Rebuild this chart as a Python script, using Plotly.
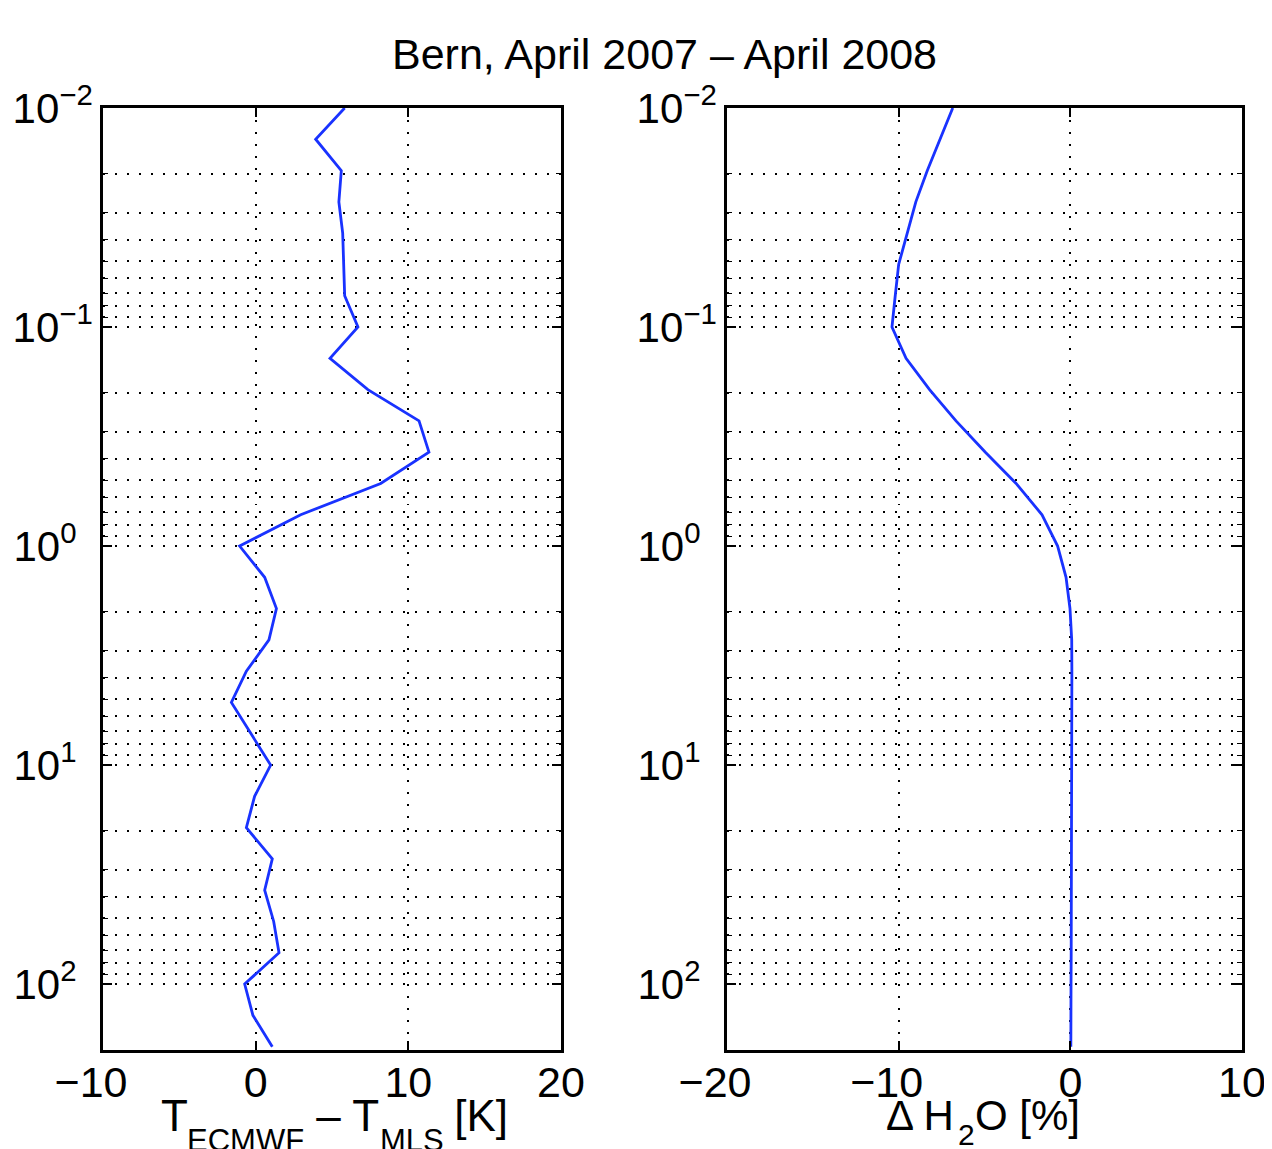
import plotly.graph_objects as go

# Pressure levels [hPa]
pressure = [0.01, 0.01389, 0.01931, 0.02683, 0.03728, 0.05179, 0.07197,
            0.1, 0.1389, 0.1931, 0.2683, 0.3728, 0.5179, 0.7197,
            1.0, 1.389, 1.931, 2.683, 3.728, 5.179, 7.197,
            10.0, 13.89, 19.31, 26.83, 37.28, 51.79, 71.97,
            100.0, 138.9, 193.1]

# T_ECMWF - T_MLS [K]
dT = [5.83, 3.93, 5.61, 5.45, 5.70, 5.76, 5.83,
      6.70, 4.87, 7.35, 10.70, 11.35, 8.19, 2.95,
      -1.05, 0.59, 1.36, 0.87, -0.61, -1.59, -0.33,
      0.98, -0.07, -0.61, 1.09, 0.59, 1.18, 1.53,
      -0.72, -0.18, 1.09]

# Delta H2O [%]
dH2O = [-6.85, -7.60, -8.33, -9.00, -9.52, -10.00, -10.20,
        -10.39, -9.57, -8.20, -6.66, -4.95, -3.16, -1.65,
        -0.74, -0.25, -0.02, 0.08, 0.09, 0.09, 0.08,
        0.08, 0.07, 0.07, 0.06, 0.06, 0.05, 0.05,
        0.04, 0.04, 0.03]

title_text = "Bern, April 2007 – April 2008"

xtick_left_vals = [-10, 0, 10, 20]
xtick_left_text = ["−10\u2007", "0", "10", "20"]
xtick_right_vals = [-20, -10, 0, 10]
xtick_right_text = ["−20\u2007", "−10\u2007", "0", "10"]

ytick_vals = [0.01, 0.1, 1, 10, 100]
ytick_text = ["10<sup>−2</sup>", "10<sup>−1</sup>", "10<sup>0\u2007</sup>",
              "10<sup>1\u2007</sup>", "10<sup>2\u2007</sup>"]
minor_vals = [m * d for d in [0.01, 0.1, 1, 10, 100] for m in range(2, 10) if m * d <= 200]

W, H = 1272, 1149
OFF = 8  # page body margin
FONT = "Liberation Sans, Arial, Helvetica, sans-serif"
BLUE = "rgb(25,50,255)"
DOT = "1.5px,10.5px"


def px_x(p):
    return (p - OFF) / W


def px_y(p):
    return 1 - (p - OFF) / H


def label(text, x, y, size, xanchor="left"):
    return dict(text=text, x=px_x(x), y=px_y(y), xref="paper", yref="paper",
                xanchor=xanchor, yanchor="top", showarrow=False,
                font=dict(size=size, family=FONT, color="black"))


fig = go.Figure()
fig.add_trace(go.Scatter(x=dT, y=pressure, mode="lines",
                         line=dict(color=BLUE, width=2.8),
                         xaxis="x", yaxis="y", showlegend=False))
fig.add_trace(go.Scatter(x=dH2O, y=pressure, mode="lines",
                         line=dict(color=BLUE, width=2.8),
                         xaxis="x2", yaxis="y2", showlegend=False))

common_x = dict(ticks="inside", ticklen=9, tickwidth=1.5, tickcolor="black",
                showline=True, linewidth=2.5, linecolor="black", mirror="ticks",
                showgrid=True, gridcolor="black", griddash=DOT, gridwidth=1.5,
                zeroline=False, tickfont=dict(size=43, family=FONT, color="black"),
                ticklabelstandoff=-7, automargin=False)
common_y = dict(type="log", range=[2.30103, -2], tickmode="array",
                tickvals=ytick_vals, ticktext=ytick_text,
                ticks="inside", ticklen=9, tickwidth=1.5, tickcolor="black",
                showline=True, linewidth=2.5, linecolor="black", mirror="ticks",
                showgrid=True, gridcolor="black", griddash=DOT, gridwidth=1.5,
                zeroline=False, tickfont=dict(size=42, family=FONT, color="black"),
                minor=dict(tickmode="array", tickvals=minor_vals, ticks="inside",
                           ticklen=5, tickwidth=1.2, tickcolor="black",
                           showgrid=True, gridcolor="black", griddash=DOT,
                           gridwidth=1.5),
                ticklabelstandoff=-1, automargin=False,
                domain=[px_y(1050), px_y(108)])

S_MAIN_L, S_SUB_L = 44, 31
S_MAIN_R, S_SUB_R = 42, 30

fig.update_layout(
    width=W, height=H,
    margin=dict(l=0, r=0, t=0, b=0, autoexpand=False),
    paper_bgcolor="white", plot_bgcolor="white",
    font=dict(family=FONT, color="black"),
    xaxis=dict(domain=[px_x(103), px_x(561)], range=[-10, 20],
               tickmode="array", tickvals=xtick_left_vals, ticktext=xtick_left_text,
               anchor="y", **common_x),
    yaxis=dict(anchor="x", **common_y),
    xaxis2=dict(domain=[px_x(727), px_x(1242)], range=[-20, 10],
                tickmode="array", tickvals=xtick_right_vals, ticktext=xtick_right_text,
                anchor="y2", **common_x),
    yaxis2=dict(anchor="x2", **common_y),
    annotations=[
        dict(text=title_text, x=px_x(664), y=px_y(54), xref="paper", yref="paper",
             xanchor="center", yanchor="middle", showarrow=False,
             font=dict(size=43, family=FONT, color="black")),
        # left x-axis label: T_ECMWF – T_MLS [K]
        label("T", 159, 1089, S_MAIN_L),
        label("ECMWF", 185, 1121, S_SUB_L),
        label("\u00a0– T", 302, 1089, S_MAIN_L),
        label("MLS", 378, 1121, S_SUB_L),
        label("\u00a0[K]", 440, 1089, S_MAIN_L),
        # right x-axis label: Δ H_2 O [%]
        label("Δ H", 956, 1090, S_MAIN_R, xanchor="right"),
        label("2", 956, 1116, S_SUB_R),
        label("O [%]", 973, 1090, S_MAIN_R),
    ],
)

fig.write_html("out.html")
